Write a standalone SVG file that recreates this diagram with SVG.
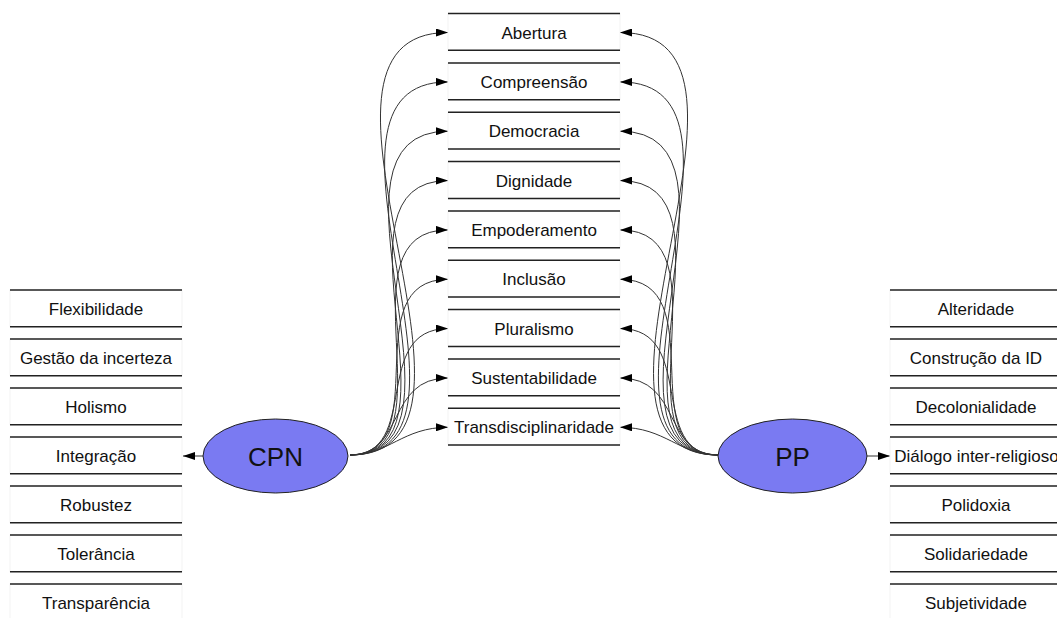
<svg xmlns="http://www.w3.org/2000/svg" width="1057" height="618" viewBox="0 0 1057 618">
<style>
.box{fill:#fff;stroke:#f3f3f3;stroke-width:1}
.ln{stroke:#222;stroke-width:1.5}
.t{font-family:"Liberation Sans",Arial,sans-serif;font-size:17px;fill:#111;text-anchor:middle}
.big{font-family:"Liberation Sans",Arial,sans-serif;font-size:26px;fill:#111;text-anchor:middle}
.el{fill:#7a7af2;stroke:#222;stroke-width:1}
.c{fill:none;stroke:#333;stroke-width:1;marker-end:url(#ah)}
</style>
<defs>
<marker id="ah" viewBox="0 0 12 8" refX="12" refY="4" markerWidth="12" markerHeight="8" markerUnits="userSpaceOnUse" orient="auto"><path d="M0,0 L12,4 L0,8 z" fill="#000"/></marker>
<g id="cb"><rect class="box" x="0" y="0" width="172" height="36.8"/><line class="ln" x1="0" y1="0" x2="172" y2="0"/><line class="ln" x1="0" y1="36.8" x2="172" y2="36.8"/></g>
</defs>
<rect width="1057" height="618" fill="#fff"/>
<g id="connectors">
<path class="c" d="M350,455 C525,455 268,32.5 448,32.5"/>
<path class="c" d="M350,455 C507,455 285,81.9 448,81.9"/>
<path class="c" d="M350,455 C489,455 302,131.2 448,131.2"/>
<path class="c" d="M350,455 C472,455 319,180.6 448,180.6"/>
<path class="c" d="M350,455 C455,455 336,229.9 448,229.9"/>
<path class="c" d="M350,455 C438,455 353,279.3 448,279.3"/>
<path class="c" d="M350,455 C421.7,455 370,328.6 448,328.6"/>
<path class="c" d="M350,455 C405.4,455 386,378 448,378"/>
<path class="c" d="M350,455 C389.1,455 402.4,427.3 448,427.3"/>
<path class="c" d="M718,455 C543,455 800,32.5 620,32.5"/>
<path class="c" d="M718,455 C561,455 783,81.9 620,81.9"/>
<path class="c" d="M718,455 C579,455 766,131.2 620,131.2"/>
<path class="c" d="M718,455 C596,455 749,180.6 620,180.6"/>
<path class="c" d="M718,455 C613,455 732,229.9 620,229.9"/>
<path class="c" d="M718,455 C630,455 715,279.3 620,279.3"/>
<path class="c" d="M718,455 C646.3,455 698,328.6 620,328.6"/>
<path class="c" d="M718,455 C662.6,455 682,378 620,378"/>
<path class="c" d="M718,455 C678.9,455 665.6,427.3 620,427.3"/>
<path class="c" d="M203,456 L183,456"/>
<path class="c" d="M867,456 L890,456"/>
</g>
<g id="center">
<g id="n-abertura"><use href="#cb" x="448" y="13.5"/><text class="t" x="534" y="38.5">Abertura</text></g>
<g id="n-compreensao"><use href="#cb" x="448" y="62.9"/><text class="t" x="534" y="87.9">Compreensão</text></g>
<g id="n-democracia"><use href="#cb" x="448" y="112.2"/><text class="t" x="534" y="137.2">Democracia</text></g>
<g id="n-dignidade"><use href="#cb" x="448" y="161.6"/><text class="t" x="534" y="186.6">Dignidade</text></g>
<g id="n-empoderamento"><use href="#cb" x="448" y="210.9"/><text class="t" x="534" y="235.9">Empoderamento</text></g>
<g id="n-inclusao"><use href="#cb" x="448" y="260.3"/><text class="t" x="534" y="285.3">Inclusão</text></g>
<g id="n-pluralismo"><use href="#cb" x="448" y="309.6"/><text class="t" x="534" y="334.6">Pluralismo</text></g>
<g id="n-sustentabilidade"><use href="#cb" x="448" y="359"/><text class="t" x="534" y="384">Sustentabilidade</text></g>
<g id="n-transdisciplinaridade"><use href="#cb" x="448" y="408.3"/><text class="t" x="534" y="433.3">Transdisciplinaridade</text></g>
</g>
<g id="left">
<g id="n-flexibilidade"><use href="#cb" x="10" y="290"/><text class="t" x="96" y="314.5">Flexibilidade</text></g>
<g id="n-gestao"><use href="#cb" x="10" y="339"/><text class="t" x="96" y="363.5">Gestão da incerteza</text></g>
<g id="n-holismo"><use href="#cb" x="10" y="388"/><text class="t" x="96" y="412.5">Holismo</text></g>
<g id="n-integracao"><use href="#cb" x="10" y="437"/><text class="t" x="96" y="461.5">Integração</text></g>
<g id="n-robustez"><use href="#cb" x="10" y="486"/><text class="t" x="96" y="510.5">Robustez</text></g>
<g id="n-tolerancia"><use href="#cb" x="10" y="535"/><text class="t" x="96" y="559.5">Tolerância</text></g>
<g id="n-transparencia"><use href="#cb" x="10" y="584"/><text class="t" x="96" y="608.5">Transparência</text></g>
</g>
<g id="right">
<g id="n-alteridade"><use href="#cb" x="890" y="290"/><text class="t" x="976" y="314.5">Alteridade</text></g>
<g id="n-construcao"><use href="#cb" x="890" y="339"/><text class="t" x="976" y="363.5">Construção da ID</text></g>
<g id="n-decolonialidade"><use href="#cb" x="890" y="388"/><text class="t" x="976" y="412.5">Decolonialidade</text></g>
<g id="n-dialogo"><use href="#cb" x="890" y="437"/><text class="t" x="976.5" y="461.5">Diálogo inter-religioso</text></g>
<g id="n-polidoxia"><use href="#cb" x="890" y="486"/><text class="t" x="976" y="510.5">Polidoxia</text></g>
<g id="n-solidariedade"><use href="#cb" x="890" y="535"/><text class="t" x="976" y="559.5">Solidariedade</text></g>
<g id="n-subjetividade"><use href="#cb" x="890" y="584"/><text class="t" x="976" y="608.5">Subjetividade</text></g>
</g>
<g id="n-cpn"><ellipse class="el" cx="275.5" cy="456" rx="72.5" ry="37"/><text class="big" x="275.5" y="465.5">CPN</text></g>
<g id="n-pp"><ellipse class="el" cx="792.5" cy="456" rx="74.5" ry="37"/><text class="big" x="792.5" y="465.5">PP</text></g>
</svg>
